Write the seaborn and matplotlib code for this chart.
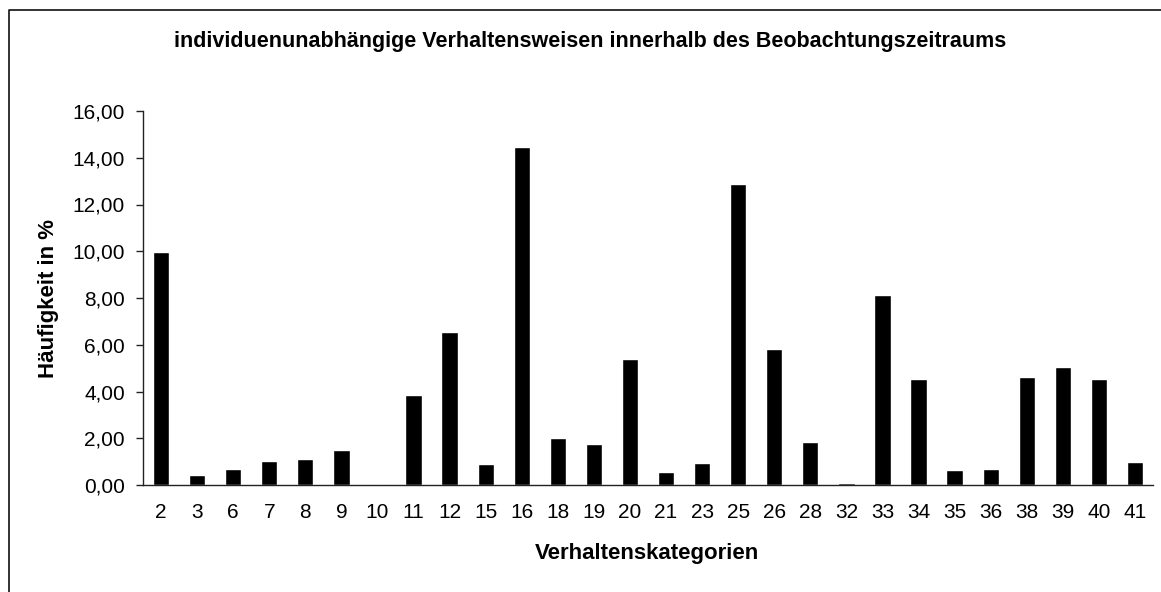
import matplotlib.pyplot as plt
import seaborn as sns
from matplotlib.ticker import FuncFormatter, FixedLocator
from matplotlib.lines import Line2D

# Verhaltenskategorien und Häufigkeiten (in %)
kategorien = ['2', '3', '6', '7', '8', '9', '10', '11', '12', '15', '16', '18', '19',
              '20', '21', '23', '25', '26', '28', '32', '33', '34', '35', '36', '38',
              '39', '40', '41']
haeufigkeit = [9.95, 0.43, 0.67, 1.03, 1.11, 1.50, 0.06, 3.87, 6.54, 0.88, 14.44, 1.99,
               1.75, 5.38, 0.54, 0.95, 12.88, 5.83, 1.82, 0.08, 8.13, 4.52, 0.64, 0.67,
               4.62, 5.03, 4.53, 1.00]

sns.set_style('white', rc={'text.color': 'black', 'xtick.color': 'black',
                           'ytick.color': 'black', 'axes.labelcolor': 'black'})
plt.rcParams['font.family'] = ['Liberation Sans', 'DejaVu Sans']

W, H = 1161, 592
fig = plt.figure(figsize=(W / 100, H / 100), dpi=100)
ax = fig.add_axes([143 / W, 1 - 485 / H, (1153 - 143) / W, (485 - 111) / H])

sns.barplot(x=kategorien, y=haeufigkeit, color='black', width=0.45,
            saturation=1, ax=ax, order=kategorien)

n = len(kategorien)
ax.set_xlim(-0.5, n - 0.5)
ax.set_ylim(0, 16)
ax.set_yticks(range(0, 17, 2))
ax.yaxis.set_major_formatter(FuncFormatter(lambda v, p: f'{v:.2f}'.replace('.', ',')))

# Ticks an den Kategoriegrenzen, Beschriftung in der Mitte
ax.xaxis.set_major_locator(FixedLocator([i - 0.5 for i in range(n + 1)]))
ax.xaxis.set_minor_locator(FixedLocator(list(range(n))))
ax.set_xticklabels([''] * (n + 1))
ax.set_xticklabels(kategorien, minor=True)
ax.tick_params(axis='x', which='major', direction='out', length=5, width=1, color='#222222')
ax.tick_params(axis='x', which='minor', length=0, pad=13, labelsize=15, labelcolor='black')
ax.tick_params(axis='y', direction='out', length=5, width=1, color='#222222',
               labelsize=15, labelcolor='black', left=True, pad=8)

for s in ['top', 'right']:
    ax.spines[s].set_visible(False)
for s in ['left', 'bottom']:
    ax.spines[s].set_color('#222222')
    ax.spines[s].set_linewidth(1)

ax.set_xlabel('')
ax.set_ylabel('')
fig.text(590 / W, 1 - 42 / H, 'individuenunabhängige Verhaltensweisen innerhalb des Beobachtungszeitraums',
         ha='center', va='center', fontsize=15.5, fontweight='bold', color='black')
fig.text(647 / W, 1 - 553 / H, 'Verhaltenskategorien', ha='center', va='center',
         fontsize=16, fontweight='bold', color='black')
fig.text(48.5 / W, 1 - 298 / H, 'Häufigkeit in %', ha='center', va='center', rotation=90,
         fontsize=16, fontweight='bold', color='black')

# Rahmen um die Grafik (nur links und oben sichtbar)
x0, y0 = 8.5 / W, 1 - 9.5 / H
fig.lines.append(Line2D([x0, x0, 1.0], [0.0, y0, y0], transform=fig.transFigure,
                        color='#111111', linewidth=1.2))

fig.savefig('out.png', dpi=100)
